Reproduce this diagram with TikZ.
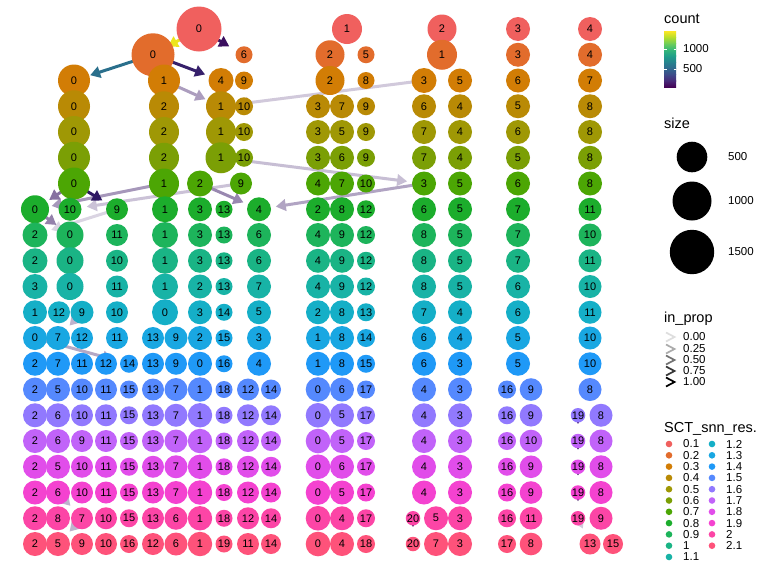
\documentclass[tikz,border=0pt]{standalone}
\usepackage{fontspec}
\setmainfont{Liberation Sans}
\usetikzlibrary{arrows.meta,backgrounds}
\definecolor{c1}{HTML}{F0605E}
\definecolor{c2}{HTML}{E26C2C}
\definecolor{c3}{HTML}{D27D05}
\definecolor{c4}{HTML}{B98A05}
\definecolor{c5}{HTML}{9F9805}
\definecolor{c6}{HTML}{7B9F05}
\definecolor{c7}{HTML}{4CA604}
\definecolor{c8}{HTML}{1CAD2C}
\definecolor{c9}{HTML}{1DB45B}
\definecolor{c10}{HTML}{1AB485}
\definecolor{c11}{HTML}{18B3A6}
\definecolor{c12}{HTML}{15AFC7}
\definecolor{c13}{HTML}{19A7E2}
\definecolor{c14}{HTML}{1F99F7}
\definecolor{c15}{HTML}{5589FE}
\definecolor{c16}{HTML}{9179FE}
\definecolor{c17}{HTML}{C163F9}
\definecolor{c18}{HTML}{E14DEA}
\definecolor{c19}{HTML}{F442D0}
\definecolor{c20}{HTML}{FC45A6}
\definecolor{c21}{HTML}{FE527A}
\definecolor{vyel}{HTML}{EDE51B}
\definecolor{vteal}{HTML}{2A6F8C}
\definecolor{vind}{HTML}{36206B}
\definecolor{vdone}{HTML}{3B0F5F}
\definecolor{vdtwo}{HTML}{2F1863}
\definecolor{vlow}{HTML}{46266F}
\definecolor{v0}{HTML}{440154}
\definecolor{v1}{HTML}{482878}
\definecolor{v2}{HTML}{3E4A89}
\definecolor{v3}{HTML}{31688E}
\definecolor{v4}{HTML}{26828E}
\definecolor{v5}{HTML}{1F9E89}
\definecolor{v6}{HTML}{35B779}
\definecolor{v7}{HTML}{6DCD59}
\definecolor{v8}{HTML}{B4DE2C}
\definecolor{v9}{HTML}{FDE725}
\newcommand\clrow[2]{%
  \foreach \xx/\lab/\rad in {#2} {%
    \node[cnode, fill=c#1, minimum size=2*\rad pt] (r#1-\lab) at (\xx,{29+25.75*(#1-1)}) {\lab};}}
\begin{document}
\begin{tikzpicture}[x=1pt,y=-1pt,
  cnode/.style={circle, inner sep=0pt, outer sep=0pt, text=black, font=\fontsize{11}{13}\selectfont},
  edge/.style={line width=3pt, -{Triangle[length=10pt,width=11.5pt]}, shorten >=17pt},
  ll/.style={inner sep=0pt, font=\fontsize{11.5}{13}\selectfont},
  lt/.style={inner sep=0pt, font=\fontsize{14.5}{16}\selectfont}]
\useasboundingbox (0,0) rectangle (768,576);
\clrow{1}{199/0/22.5, 347/1/15, 442/2/14.5, 518/3/12, 590/4/12}
\clrow{2}{153/0/21.5, 244/6/8.5, 330/2/14.5, 366/5/8.5, 442/1/15, 518/3/12, 590/4/12}
\clrow{3}{74/0/16, 164/1/16, 221/4/12.5, 244/9/9, 330/2/14.5, 366/8/8.5, 424/3/12.5, 460/5/12, 518/6/12, 590/7/12}
\clrow{4}{74/0/16, 164/2/15, 221/1/15, 244/10/9, 318/3/12, 342/7/12, 366/9/9, 424/6/12, 460/4/12, 518/5/12, 590/8/12}
\clrow{5}{74/0/16, 164/2/15, 221/1/15, 244/10/9, 318/3/12, 342/5/12, 366/9/9, 424/7/12, 460/4/12, 518/6/12, 590/8/12}
\clrow{6}{74/0/16, 164/2/15, 221/1/15.5, 244/10/9, 318/3/12, 342/6/12, 366/9/9, 424/7/12, 460/4/12, 518/5/12, 590/8/12}
\clrow{7}{74/0/16, 164/1/15, 200/2/13, 241/9/11, 318/4/12, 342/7/12, 366/10/9, 424/3/12, 460/5/12, 518/6/12, 590/8/12}
\clrow{8}{35/0/14, 70/10/11.5, 117/9/11, 165/1/13, 200/3/12, 224/13/8.5, 259/4/12, 318/2/12, 342/8/12, 366/12/9, 424/6/12, 460/5/12, 518/7/12, 590/11/11.5}
\clrow{9}{35/2/12.5, 70/0/13.5, 117/11/11, 165/1/13, 200/3/12, 224/13/8.5, 259/6/12, 318/4/12, 342/9/12, 366/12/9, 424/8/12, 460/5/12, 518/7/12, 590/10/11.5}
\clrow{10}{35/2/12.5, 70/0/13.5, 117/10/11, 165/1/13, 200/3/12, 224/13/8.5, 259/6/12, 318/4/12, 342/9/12, 366/12/9, 424/8/12, 460/5/12, 518/7/12, 590/11/11.5}
\clrow{11}{35/3/12.5, 70/0/13.5, 117/11/11, 165/1/13, 200/2/12, 224/13/8.5, 259/7/12, 318/4/12, 342/9/12, 366/12/9, 424/8/12, 460/5/12, 518/6/12, 590/10/11.5}
\clrow{12}{35/1/12, 59/12/11, 82/9/11.5, 117/10/11, 165/0/13, 200/3/12, 224/14/8.5, 259/5/12, 318/2/12, 342/8/12, 366/13/9, 424/7/12, 460/4/12, 518/6/12, 590/11/11.5}
\clrow{13}{35/0/12, 58/7/12, 82/12/11, 117/11/11, 153/13/11, 176/9/11.5, 200/2/12, 224/15/8.5, 259/3/12, 318/1/12, 342/8/12, 366/14/9, 424/6/12, 460/4/12, 518/5/12, 590/10/11.5}
\clrow{14}{35/2/12, 58/7/12, 82/11/11, 106/12/11, 129/14/9, 153/13/11, 176/9/11, 200/0/12, 224/16/8.5, 259/4/12, 318/1/12, 342/8/12, 366/15/9, 424/6/12, 460/3/12, 518/5/12, 590/10/11.5}
\clrow{15}{35/2/12, 58/5/12, 82/10/11, 106/11/11, 129/15/9, 153/13/11, 176/7/11.5, 200/1/12.2, 224/18/8.5, 248/12/11, 271/14/10, 318/0/12.3, 342/6/12, 366/17/9, 424/4/12, 460/3/12, 507/16/9, 531/9/11.3, 590/8/11.5}
\clrow{16}{35/2/12, 58/6/12, 82/10/11, 106/11/11, 129/15/9, 153/13/11, 176/7/11.5, 200/1/12.2, 224/18/8.5, 248/12/11, 271/14/10, 318/0/12.3, 342/5/12, 366/17/9, 424/4/12, 460/3/12, 507/16/9, 531/9/11.3, 578/19/6.5, 601/8/11.5}
\clrow{17}{35/2/12, 58/6/12, 82/9/11, 106/11/11, 129/15/9, 153/13/11, 176/7/11.5, 200/1/12.2, 224/18/8.5, 248/12/11, 271/14/10, 318/0/12.3, 342/5/12, 366/17/9, 424/4/12, 460/3/12, 507/16/9, 531/10/11.3, 578/19/6.5, 601/8/11.5}
\clrow{18}{35/2/12, 58/5/12, 82/10/11, 106/11/11, 129/15/9, 153/13/11, 176/7/11.5, 200/1/12.2, 224/18/8.5, 248/12/11, 271/14/10, 318/0/12.3, 342/6/12, 366/17/9, 424/4/12, 460/3/12, 507/16/9, 531/9/11.3, 578/19/6.5, 601/8/11.5}
\clrow{19}{35/2/12, 58/6/12, 82/10/11, 106/11/11, 129/15/9, 153/13/11, 176/7/11.5, 200/1/12.2, 224/18/8.5, 248/12/11, 271/14/10, 318/0/12.3, 342/5/12, 366/17/9, 424/4/12, 460/3/12, 507/16/9, 531/9/11.3, 578/19/6.5, 601/8/11.5}
\clrow{20}{35/2/12, 58/8/12, 82/7/11, 106/10/11, 129/15/9, 153/13/11, 176/6/11.5, 200/1/12.2, 224/18/8.5, 248/12/11, 271/14/10, 318/0/12.3, 342/4/12, 366/17/9, 413/20/6.5, 436/5/12, 460/3/12, 507/16/9, 531/11/11.3, 578/19/6.5, 601/9/11.5}
\clrow{21}{35/2/12, 58/5/12, 82/9/11, 106/10/11, 129/16/9, 153/12/11, 176/6/11.5, 200/1/12.2, 224/19/8.5, 248/11/11, 271/14/10, 318/0/12.3, 342/4/12, 366/18/9, 413/20/6.5, 436/7/12, 460/3/12, 507/17/9, 531/8/11.3, 590/13/10.5, 613/15/10}
\begin{scope}[on background layer]
\fill[white] (0,0) rectangle (768,576);
\draw[edge, vyel] (r1-0.center) -- (r2-0.center);
\draw[edge, vdone] (r1-0.center) -- (r2-6.center);
\draw[edge, vteal] (r2-0.center) -- (r3-0.center);
\draw[edge, vind] (r2-0.center) -- (r3-4.center);
\draw[edge, vlow!45!white] (r3-1.center) -- (r4-1.center);
\draw[edge, vlow!25!white] (r3-3.center) -- (r4-1.center);
\draw[edge, vlow!30!white] (r6-1.center) -- (r7-3.center);
\draw[edge, vdtwo] (r6-1.center) -- (r7-2.center);
\draw[edge, vlow!20!white] (r8-9.center) -- (r9-2.center);
\draw[edge, vlow!28!white] (r7-9.center) -- (r8-10.center);
\draw[edge, vlow!48!white] (r7-1.center) -- (r8-0.center);
\draw[edge, vlow!65!white] (r7-0.center) -- (r8-0.center);
\draw[edge, vdtwo] (r7-0.center) -- (r8-9.center);
\draw[edge, vlow!42!white] (r7-3.center) -- (r8-4.center);
\draw[edge, vlow!55!white] (r7-2.center) -- (r8-4.center);
\draw[edge, vlow!58!white] (r8-0.center) -- (r9-0.center);
\draw[edge, vlow!35!white] (r12-9.center) -- (r13-7.center);
\draw[edge, vlow!40!white] (r13-0.center) -- (r14-14.center);
\draw[edge, vlow!35!white] (r19-6.center) -- (r20-7.center);
\draw[edge, vlow!35!white] (r20-7.center) -- (r21-5.center);
\draw[edge, vdone] (r16-19.center) -- (r17-19.center);
\draw[edge, vdone] (r17-19.center) -- (r18-19.center);
\draw[edge, vdone] (r18-19.center) -- (r19-19.center);
\draw[edge, vdone] (r19-19.center) -- (r20-19.center);
\draw[edge, vdone] (r20-20.center) -- (r21-20.center);
\draw[edge, vlow!25!white] (r20-19.center) -- (r21-13.center);
\end{scope}
% legend: count
\node[lt, anchor=base west] (tcount) at (664,23) {count};
\foreach \i/\ca/\cb in {0/v0/v1,1/v1/v2,2/v2/v3,3/v3/v4,4/v4/v5,5/v5/v6,6/v6/v7,7/v7/v8,8/v8/v9}
  \shade[bottom color=\ca, top color=\cb] (664,{87-\i*56/9+0.3}) rectangle (676,{87-(\i+1)*56/9});
\draw[white, line width=0.6pt] (664,49) -- (666.5,49) (673.5,49) -- (676,49) (664,69) -- (666.5,69) (673.5,69) -- (676,69);
\node[ll, anchor=west] (l1000) at (683,49) {1000};
\node[ll, anchor=west] (l500) at (683,69) {500};
% legend: size
\node[lt, anchor=base west] (tsize) at (664,128) {size};
\node[circle, fill=black, inner sep=0pt, minimum size=30.6pt] (s500) at (692,157) {};
\node[circle, fill=black, inner sep=0pt, minimum size=39pt] (s1000) at (692,201) {};
\node[circle, fill=black, inner sep=0pt, minimum size=44.4pt] (s1500) at (692,252) {};
\node[ll, anchor=west] (ls500) at (728,157) {500};
\node[ll, anchor=west] (ls1000) at (728,201) {1000};
\node[ll, anchor=west] (ls1500) at (728,252) {1500};
% legend: in_prop
\node[lt, anchor=base west] (tin) at (664,322) {in\_prop};
\foreach \yy/\lab/\g in {337/0.00/13, 349/0.25/33, 360/0.50/55, 371/0.75/78, 382/1.00/100} {
  \draw[black!\g, line width=1.7pt] (666,{\yy-4.5}) -- (674.5,\yy) -- (666,{\yy+4.5});
  \node[ll, anchor=west] (ip\lab) at (683,\yy) {\lab};}
% legend: resolution
\node[lt, anchor=base west] (tsct) at (664,432) {SCT\_snn\_res.};
\foreach \n/\lab in {1/0.1,2/0.2,3/0.3,4/0.4,5/0.5,6/0.6,7/0.7,8/0.8,9/0.9,10/1,11/1.1} {
  \fill[c\n] (669,{444+11.3*(\n-1)}) circle (3.3);
  \node[ll, anchor=west] (k\n) at (683,{444+11.3*(\n-1)}) {\lab};}
\foreach \n/\lab in {12/1.2,13/1.3,14/1.4,15/1.5,16/1.6,17/1.7,18/1.8,19/1.9,20/2,21/2.1} {
  \fill[c\n] (712,{444+11.3*(\n-12)}) circle (3.3);
  \node[ll, anchor=west] (k\n) at (726,{444+11.3*(\n-12)}) {\lab};}
\end{tikzpicture}
\end{document}
